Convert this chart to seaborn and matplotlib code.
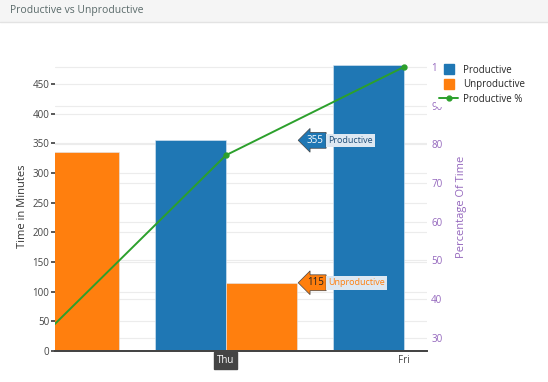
import matplotlib
matplotlib.use('Agg')
import matplotlib.pyplot as plt
from matplotlib.lines import Line2D
from matplotlib.patches import Rectangle
import pandas as pd
import seaborn as sns

days = ['Wed', 'Thu', 'Fri']
productive = [160, 355, 482]
unproductive = [335, 115, 0]
productive_pct = [31.8, 77.2, 100]

blue, orange, green, purple = '#1f77b4', '#ff7f0e', '#2ca02c', '#9467bd'

sns.set_theme(style='white')
plt.rcParams['font.family'] = ['Open Sans', 'DejaVu Sans']

df = pd.DataFrame({'day': days, 'Productive': productive, 'Unproductive': unproductive})
long = df.melt(id_vars='day', var_name='kind', value_name='minutes')

fig = plt.figure(figsize=(5.48, 3.82), dpi=100)
rect = [55 / 548, 1 - 351 / 382, (427 - 55) / 548, (351 - 62) / 382]

# bottom layer: grid for the right axis only
axg = fig.add_axes(rect)
axg.set_ylim(26.6, 101.3)
axg.set_yticks(range(30, 101, 10))
axg.grid(axis='y', color='#ececec', linewidth=0.8)
axg.set_xticks([])
axg.tick_params(left=False, labelleft=False)
for s in axg.spines.values():
    s.set_visible(False)

ax = fig.add_axes(rect)
ax.patch.set_visible(False)
sns.barplot(data=long, x='day', y='minutes', hue='kind', order=days,
            palette=[blue, orange], saturation=1, ax=ax, width=0.8, gap=0,
            legend=False, edgecolor='#dfe9f3', linewidth=0.4, zorder=2)

ax2 = ax.twinx()
sns.pointplot(x=days, y=productive_pct, order=days, ax=ax2, color=green,
              markers='o', markersize=3.5, linewidth=1.4)

ax.set_xticks([1, 2])
ax.set_xticklabels(days[1:])
ax.set_xlim(0.04, 2.13)
axg.set_xlim(0.04, 2.13)
ax.set_ylim(0, 487)
ax2.set_ylim(26.6, 101.3)
ax.set_yticks(range(0, 451, 50))
ax2.set_yticks(range(30, 101, 10))

ax.grid(axis='y', color='#ececec', linewidth=0.8, zorder=0)
ax.set_axisbelow(True)
ax2.grid(False)
ax2.patch.set_visible(False)

for a in (ax, ax2):
    for s in ['top', 'left', 'right']:
        a.spines[s].set_visible(False)
    a.spines['bottom'].set_color('#444444')
    a.spines['bottom'].set_linewidth(1.3)

ax.tick_params(axis='y', length=3, color='#444444', labelsize=7, labelcolor='#444444', pad=1)
ax2.tick_params(axis='y', length=0, labelsize=7, labelcolor=purple, pad=3)
ax.tick_params(axis='x', length=0, labelsize=7, labelcolor='#444444', pad=3)
ax.set_xlabel('')
ax.set_ylabel('Time in Minutes', fontsize=8, color='#333333', labelpad=3)
ax2.set_ylabel('Percentage Of Time', fontsize=8, color=purple, labelpad=6)

for lab in ax.get_xticklabels():
    if lab.get_text() == 'Thu':
        lab.set_color('white')
        lab.set_bbox(dict(boxstyle='square,pad=0.3', facecolor='#444444', edgecolor='#444444'))

# hover labels on Thu bars
i = days.index('Thu')
hover = [(productive[i], 'Productive', blue, 'white', '#1f4e79'),
         (unproductive[i], 'Unproductive', orange, '#222222', orange)]
for val, name, c, tc, nc in hover:
    ax.annotate(str(val), xy=(i + 0.4, val), xytext=(7, 0), textcoords='offset points',
                ha='left', va='center', fontsize=7, color=tc,
                bbox=dict(boxstyle='larrow,pad=0.25', facecolor=c, edgecolor='#444444', linewidth=0.5),
                zorder=10)
    ax.annotate(name, xy=(i + 0.4, val), xytext=(22.5, 0), textcoords='offset points',
                ha='left', va='center', fontsize=6.5, color=nc,
                bbox=dict(boxstyle='square,pad=0.25', facecolor='#dde8f2', edgecolor='none'),
                zorder=10)

handles = [Line2D([], [], marker='s', linestyle='none', markersize=7, color=blue),
           Line2D([], [], marker='s', linestyle='none', markersize=7, color=orange),
           Line2D([], [], marker='o', markersize=3.5, color=green, linewidth=1.4)]
fig.legend(handles, ['Productive', 'Unproductive', 'Productive %'],
           loc='upper left', bbox_to_anchor=(431 / 548, 1 - 57 / 382),
           frameon=True, facecolor='white', edgecolor='none', framealpha=1,
           fontsize=7, handlelength=2.0, handletextpad=0.5, labelspacing=0.35,
           borderpad=0.3)

# header bar
fig.add_artist(Rectangle((0, 1 - 22 / 382), 1, 22 / 382, transform=fig.transFigure,
                         facecolor='#f5f5f5', edgecolor='none', zorder=-1))
fig.add_artist(Line2D([0, 1], [1 - 22 / 382] * 2, transform=fig.transFigure,
                      color='#e3e3e3', linewidth=1))
fig.text(10 / 548, 1 - 11 / 382, 'Productive vs Unproductive', fontsize=7.5,
         color='#5a6a6a', va='center', ha='left')

fig.savefig('out.png', dpi=100)
